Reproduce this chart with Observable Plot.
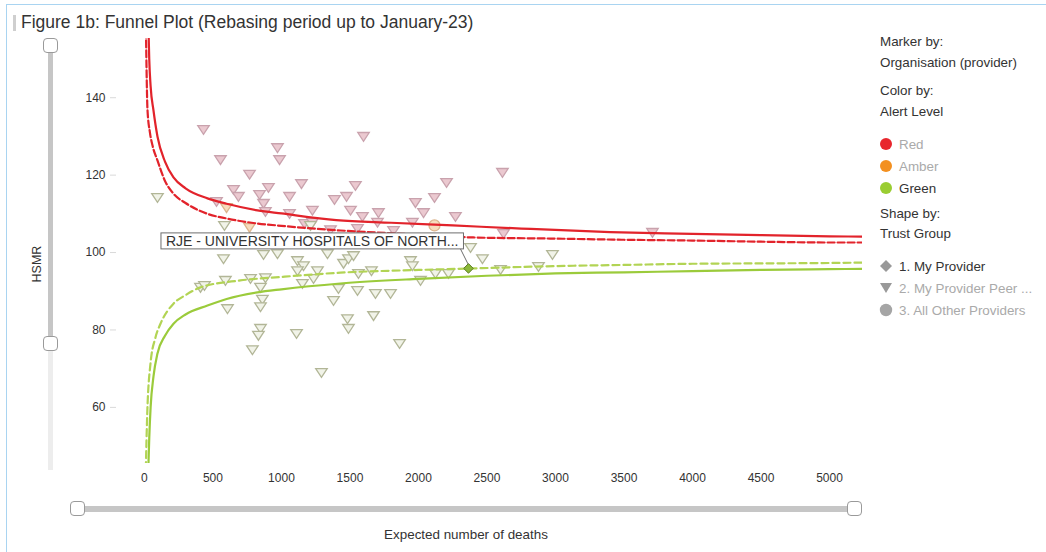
<!DOCTYPE html>
<html>
<head>
<meta charset="utf-8">
<script src="https://cdn.jsdelivr.net/npm/d3@7"></script>
<script src="https://cdn.jsdelivr.net/npm/@observablehq/plot@0.6"></script>
<style>
  html, body { margin: 0; padding: 0; background: #fff; }
  body { font-family: "Liberation Sans", Arial, sans-serif; }
  #wrap { position: relative; width: 1046px; height: 552px; overflow: hidden; }
  #chart { position: absolute; left: 0; top: 0; }
  .abs { position: absolute; white-space: nowrap; }
  .lg { position: absolute; left: 880px; font-size: 13.4px; color: #333; line-height: 15px; white-space: nowrap; }
  .lg.dim { color: #aaa; }
  .handle { position: absolute; width: 15px; height: 15px; background: #fff; border: 1px solid #9a9a9a; border-radius: 4px; box-sizing: border-box; }
</style>
</head>
<body>
<div id="wrap">
  <div id="chart"></div>
  <!-- frame -->
  <div class="abs" style="left:6px;top:4px;width:1040px;height:1px;background:#a9d4f1"></div>
  <div class="abs" style="left:6px;top:4px;width:1px;height:548px;background:#a9d4f1"></div>
  <!-- title -->
  <div class="abs" style="left:13px;top:15px;width:3px;height:16px;background:#cfcfcf"></div>
  <div class="abs" id="title" style="left:21px;top:12px;font-size:17.5px;color:#333">Figure 1b: Funnel Plot (Rebasing period up to January-23)</div>
  <!-- y slider -->
  <div class="abs" style="left:48px;top:46px;width:5px;height:298px;background:#c6c6c6"></div>
  <div class="abs" style="left:48px;top:344px;width:5px;height:126px;background:#ededed"></div>
  <div class="handle" style="left:43px;top:38px"></div>
  <div class="handle" style="left:43px;top:336px"></div>
  <div class="abs" style="left:19px;top:257px;font-size:12.5px;color:#333;transform:rotate(-90deg);transform-origin:center">HSMR</div>
  <!-- x slider -->
  <div class="abs" style="left:78px;top:506px;width:777px;height:6px;background:#c6c6c6"></div>
  <div class="handle" style="left:70px;top:501px"></div>
  <div class="handle" style="left:847px;top:501px"></div>
  <div class="abs" style="left:316px;top:527px;width:300px;text-align:center;font-size:13.4px;color:#333">Expected number of deaths</div>
  <!-- legend -->
  <div class="lg" style="top:34px">Marker by:</div>
  <div class="lg" style="top:55px">Organisation (provider)</div>
  <div class="lg" style="top:83px">Color by:</div>
  <div class="lg" style="top:104px">Alert Level</div>
  <div id="legendAlert"></div>
  <div class="lg" style="top:206px">Shape by:</div>
  <div class="lg" style="top:226px">Trust Group</div>
  <div id="legendShape"></div>
</div>
<script>
// ---------- data ----------
// control limits (Expected deaths -> HSMR)
const upper998X = [28, 35, 45, 66, 95, 150, 212, 300, 460, 600, 825, 1000, 1400, 1800, 2250, 2750, 3400, 3900, 4500, 5000, 5240];
const upper998H = [160, 150, 143, 136.7, 130, 123.5, 119.4, 116.6, 114, 112.6, 110.9, 110.1, 108.4, 107.7, 107, 106.2, 105.3, 104.9, 104.5, 104.2, 104.1];
const upper95X = [10, 15, 22, 40, 60, 95, 150, 212, 300, 460, 600, 825, 1000, 1430, 1800, 2400, 3000, 3500, 4000, 4500, 5000, 5240];
const upper95H = [160, 148, 137, 131, 127.5, 123.8, 118.5, 115.2, 112.8, 110, 108.8, 107.5, 106.9, 105.7, 105, 103.9, 103.6, 103.3, 103.1, 102.8, 102.6, 102.6];
const lower998X = [28, 35, 45, 66, 95, 150, 212, 300, 460, 600, 825, 1000, 1430, 2000, 2500, 3000, 3500, 4000, 4500, 5000, 5240];
const lower998H = [44, 52, 60, 68, 73.9, 78.5, 81.6, 84, 86.3, 88, 89.7, 90.5, 92, 93.2, 94, 94.6, 94.9, 95.2, 95.5, 95.7, 95.8];
const lower95X = [10, 20, 44, 80, 117, 212, 300, 409, 700, 1000, 1430, 2000, 2400, 3000, 3500, 4000, 4500, 5000, 5240];
const lower95H = [44, 58, 71.3, 78, 81.6, 86.8, 89, 91, 92.8, 93.7, 94.8, 95.5, 95.9, 96.5, 96.8, 97.1, 97.2, 97.3, 97.4];

// peer providers (triangles)
const peerX = [431, 1599, 971, 986, 555, 2613, 2205, 767, 1146, 1540, 650, 686, 840, 905, 1059, 1387, 1475, 2117, 1978, 869,
  1226, 1504, 1591, 1708, 2037, 2270, 526, 883, 1059, 1956, 1168, 1226, 1555, 1701, 1358, 1818, 2621, 3708,
  599, 767,
  95, 584, 1212, 577, 869, 971, 1117, 1161, 1117, 1263, 1453, 1489, 1526, 1336, 1942, 1956, 2380, 2467, 2978, 2876,
  2599, 2124, 2219, 2015, 1657, 1562, 591, 409, 438, 774, 883, 847, 1153, 1234, 1416, 1555, 1380, 1686, 1796, 861,
  847, 606, 1482, 1489, 1672, 847, 832, 1110, 788, 1862, 1292];
const peerH = [131.8, 130.0, 127.1, 124.0, 124.0, 120.7, 118.1, 120.2, 117.8, 117.3, 116.3, 114.5, 115.0, 116.8, 114.5, 113.7, 114.5, 114.2, 112.9, 112.7,
  110.9, 110.9, 109.3, 110.3, 110.3, 109.3, 113.2, 110.6, 110.1, 107.8, 107.5, 107.8, 106.2, 107.8, 105.9, 105.7, 104.9, 105.2,
  111.6, 106.5,
  114.2, 107.0, 107.0, 98.4, 99.5, 99.7, 97.9, 96.6, 95.3, 95.3, 97.2, 98.4, 99.2, 99.7, 97.9, 96.6, 101.3, 98.4, 99.5, 96.4,
  95.6, 94.6, 94.6, 92.8, 95.3, 94.6, 92.8, 91.0, 91.5, 93.3, 93.5, 91.0, 92.0, 93.3, 90.7, 90.2, 87.6, 89.4, 89.4, 87.9,
  86.0, 85.5, 82.9, 80.4, 83.7, 80.4, 78.6, 79.1, 74.9, 76.5, 69.0];
const peerAlert = [
  ...Array(38).fill("Red"),
  "Amber", "Amber",
  ...Array(51).fill("Green")];

// all other providers (circles)
const otherX = [2117];
const otherH = [107.0];
const otherAlert = ["Amber"];

// my provider (diamond)
const myX = [2365];
const myH = [95.9];
const myName = ["RJE - UNIVERSITY HOSPITALS OF NORTH..."];

const xTicks = [0, 500, 1000, 1500, 2000, 2500, 3000, 3500, 4000, 4500, 5000];
const yTicks = [60, 80, 100, 120, 140];

// ---------- styles ----------
const fadedFill = {Red: "#ebc9d0", Amber: "#f7dcbd", Green: "#f1f3e8"};
const fadedStroke = {Red: "#c9a2ad", Amber: "#dcb58e", Green: "#b2b697"};

const zip = (xs, ys) => xs.map((x, i) => ({x, y: ys[i]}));
const peers = peerX.map((x, i) => ({x, y: peerH[i], alert: peerAlert[i]}));
const others = otherX.map((x, i) => ({x, y: otherH[i], alert: otherAlert[i]}));
const mine = myX.map((x, i) => ({x, y: myH[i], name: myName[i]}));

const triDown = {
  draw(ctx, size) {
    const r = Math.sqrt(size / Math.PI);
    ctx.moveTo(-1.25 * r, -0.85 * r);
    ctx.lineTo(1.25 * r, -0.85 * r);
    ctx.lineTo(0, 1.05 * r);
    ctx.closePath();
  }
};
const diamondSq = {
  draw(ctx, size) {
    const r = Math.sqrt(size / Math.PI);
    ctx.moveTo(0, -r);
    ctx.lineTo(r, 0);
    ctx.lineTo(0, r);
    ctx.lineTo(-r, 0);
    ctx.closePath();
  }
};

const RED = "#e2232b", GREEN = "#9bcb3b", GREEN_D = "#b2d454";

const plot = Plot.plot({
  width: 1046,
  height: 552,
  marginLeft: 116,
  marginRight: 184,
  marginTop: 38,
  marginBottom: 89,
  style: {background: "transparent", fontFamily: "'Liberation Sans', Arial, sans-serif", fontSize: "12px", color: "#333"},
  x: {domain: [-204, 5241]},
  y: {domain: [45.5, 155.3]},
  color: {type: "identity"},
  marks: [
    Plot.axisY({ticks: yTicks, tickSize: 6, tickPadding: 5, line: true, stroke: "#d9d9d9", color: "#333", label: null, fontSize: 12}),
    Plot.axisX({ticks: xTicks, tickFormat: d => String(d), tickSize: 0, tickPadding: 10, line: true, stroke: "#d9d9d9", color: "#333", label: null, fontSize: 12}),
    Plot.dot(peers, {x: "x", y: "y", r: 4.6, symbol: triDown, fill: d => fadedFill[d.alert], stroke: d => fadedStroke[d.alert], strokeWidth: 1.3}),
    Plot.dot(others, {x: "x", y: "y", r: 5.5, symbol: "circle", fill: d => fadedFill[d.alert], stroke: d => fadedStroke[d.alert], strokeWidth: 1.3}),
    Plot.line(zip(upper998X, upper998H), {x: "x", y: "y", curve: "monotone-x", stroke: RED, strokeWidth: 2.2, clip: true}),
    Plot.line(zip(upper95X, upper95H), {x: "x", y: "y", curve: "monotone-x", stroke: RED, strokeWidth: 2.2, strokeDasharray: "7,3", clip: true}),
    Plot.line(zip(lower998X, lower998H), {x: "x", y: "y", curve: "monotone-x", stroke: GREEN, strokeWidth: 2.2, clip: true}),
    Plot.line(zip(lower95X, lower95H), {x: "x", y: "y", curve: "monotone-x", stroke: GREEN_D, strokeWidth: 2.2, strokeDasharray: "7,4", clip: true}),
    Plot.dot(mine, {x: "x", y: "y", r: 4.8, symbol: diamondSq, fill: "#8bb839", stroke: "#5b7b22", strokeWidth: 1}),
    Plot.text(mine, {x: "x", y: "y", text: "name", textAnchor: "end", dx: -10, dy: -27, fontSize: 14, fill: "#333"})
  ]
});
document.getElementById("chart").appendChild(plot);

// annotation box and leader for my provider
(function () {
  const svg = plot.tagName.toLowerCase() === "svg" ? plot : plot.querySelector("svg");
  const label = [...svg.querySelectorAll("text")].find(t => t.textContent.startsWith("RJE"));
  if (!label) return;
  const sr = svg.getBoundingClientRect();
  const b = label.getBoundingClientRect();
  const ns = "http://www.w3.org/2000/svg";
  const x0 = b.left - sr.left - 5, y0 = b.top - sr.top, w = b.width + 10, h = b.height;
  const rect = document.createElementNS(ns, "rect");
  rect.setAttribute("x", x0); rect.setAttribute("y", y0);
  rect.setAttribute("width", w); rect.setAttribute("height", h);
  rect.setAttribute("fill", "#fff"); rect.setAttribute("stroke", "#6e6e6e"); rect.setAttribute("stroke-width", 1);
  const g = label.closest("g");
  g.parentNode.insertBefore(rect, g);
  const px = plot.scale("x").apply(myX[0]), py = plot.scale("y").apply(myH[0]);
  const line = document.createElementNS(ns, "line");
  line.setAttribute("x1", x0 + w - 3); line.setAttribute("y1", y0 + h);
  line.setAttribute("x2", px); line.setAttribute("y2", py - 4);
  line.setAttribute("stroke", "#6e6e6e"); line.setAttribute("stroke-width", 1);
  g.parentNode.insertBefore(line, g);
})();

// legend
const alertLegend = [["Red", "#e8262d", true], ["Amber", "#f39020", true], ["Green", "#9acd32", false]];
const la = document.getElementById("legendAlert");
alertLegend.forEach(([name, col, dim], i) => {
  const top = 137 + i * 22;
  la.insertAdjacentHTML("beforeend",
    `<div class="abs" style="left:880px;top:${top + 1}px;width:12px;height:12px;border-radius:50%;background:${col}"></div>` +
    `<div class="lg${dim ? " dim" : ""}" style="left:899px;top:${top}px">${name}</div>`);
});
const shapeLegend = [["1. My Provider", "diamond", false], ["2. My Provider Peer ...", "tri", true], ["3. All Other Providers", "circle", true]];
const ls = document.getElementById("legendShape");
shapeLegend.forEach(([name, shape, dim], i) => {
  const top = 259 + i * 22;
  let icon;
  if (shape === "diamond") icon = `<svg class="abs" style="left:879px;top:${top}px" width="14" height="14"><path d="M7,1L13,7L7,13L1,7Z" fill="#999"/></svg>`;
  else if (shape === "tri") icon = `<svg class="abs" style="left:879px;top:${top}px" width="14" height="14"><path d="M1,2L13,2L7,12Z" fill="#999"/></svg>`;
  else icon = `<svg class="abs" style="left:879px;top:${top}px" width="14" height="14"><circle cx="7" cy="7" r="6.2" fill="#a5a5a5"/></svg>`;
  ls.insertAdjacentHTML("beforeend", icon + `<div class="lg${dim ? " dim" : ""}" style="left:899px;top:${top}px">${name}</div>`);
});
</script>
</body>
</html>
